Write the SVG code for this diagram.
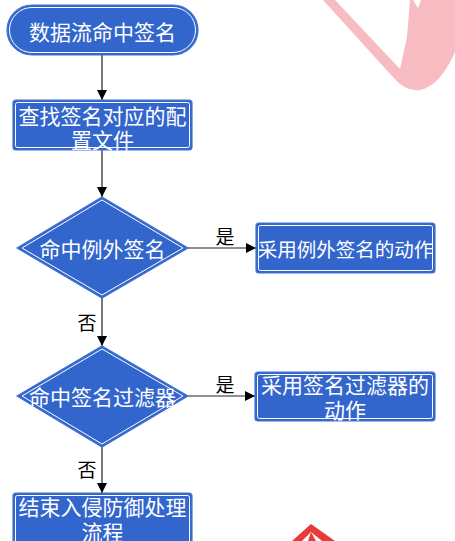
<svg xmlns="http://www.w3.org/2000/svg" width="455" height="541" viewBox="0 0 455 541">
<defs>
<style>
.o{fill:#3366cc;stroke:#3f72d6;stroke-width:1.2}
.i{fill:none;stroke:#ffffff;stroke-width:1}
.t{font-family:"Noto Sans CJK SC","Noto Sans",sans-serif;font-size:21px;fill:#ffffff;text-anchor:middle;dominant-baseline:central}
.l{font-family:"Noto Sans CJK SC","Noto Sans",sans-serif;font-size:19px;fill:#000000;text-anchor:middle;dominant-baseline:central}
.c{fill:none;stroke:#222222;stroke-width:1.2}
</style>
<marker id="ah" viewBox="0 0 10 10" refX="10" refY="5" markerWidth="10" markerHeight="10" markerUnits="userSpaceOnUse" orient="auto">
<path d="M0,0 L10,5 L0,10 Z" fill="#000000"/>
</marker>
</defs>
<rect width="455" height="541" fill="#ffffff"/>
<g id="watermark">
<path d="M323,0 L392,76 Q405,92 420,90 Q440,86 455,52 L455,0 Z" fill="#f6bcc1"/>
<path d="M335,0 L400,69 L407,37 L410,0 Z" fill="#ffffff"/>
<path d="M413,0 L418,8 L421,0 Z" fill="#ffffff"/>
<path d="M311,524 L292,541 L335,541 Z" fill="#e83a3a"/>
<path d="M311,532 L302,541 L322,541 Z" fill="#ffffff"/>
<path d="M311,532 L308,541 L316,541 Z" fill="#e83a3a"/>
</g>
<g id="connectors">
<line class="c" x1="102" y1="55" x2="102" y2="100" marker-end="url(#ah)"/>
<line class="c" x1="102" y1="150" x2="102" y2="197" marker-end="url(#ah)"/>
<line class="c" x1="188" y1="248" x2="256" y2="248" marker-end="url(#ah)"/>
<text class="l" x="225" y="235">是</text>
<line class="c" x1="102" y1="298" x2="102" y2="346" marker-end="url(#ah)"/>
<text class="l" x="87" y="321">否</text>
<line class="c" x1="188" y1="396" x2="255" y2="396" marker-end="url(#ah)"/>
<text class="l" x="225" y="383">是</text>
<line class="c" x1="102" y1="447" x2="102" y2="493" marker-end="url(#ah)"/>
<text class="l" x="87" y="468">否</text>
</g>
<g id="start">
<rect class="o" x="7" y="5" width="191" height="50" rx="25"/>
<rect class="i" x="9.5" y="7.5" width="186" height="45" rx="22.5"/>
<text class="t" x="102.5" y="31">数据流命中签名</text>
</g>
<g id="find">
<rect class="o" x="13" y="100" width="179" height="50" rx="3"/>
<rect class="i" x="15.5" y="102.5" width="174" height="45" rx="2"/>
<text class="t" x="102.5" y="115">查找签名对应的配</text>
<text class="t" x="102.5" y="139">置文件</text>
</g>
<g id="d1">
<polygon class="o" points="102,197 188,248 102,298 17,248"/>
<polygon class="i" points="102,200 183,248 102,295 22,248"/>
<text class="t" x="102.5" y="248">命中例外签名</text>
</g>
<g id="act1">
<rect class="o" x="256" y="223" width="179" height="50" rx="3"/>
<rect class="i" x="258.5" y="225.5" width="174" height="45" rx="2"/>
<text class="t" x="345.5" y="248" style="font-size:19.5px">采用例外签名的动作</text>
</g>
<g id="d2">
<polygon class="o" points="102,346 188,396 102,447 17,396"/>
<polygon class="i" points="102,349 183,396 102,444 22,396"/>
<text class="t" x="102.5" y="396">命中签名过滤器</text>
</g>
<g id="act2">
<rect class="o" x="255" y="372" width="180" height="49" rx="3"/>
<rect class="i" x="257.5" y="374.5" width="175" height="44" rx="2"/>
<text class="t" x="345" y="384">采用签名过滤器的</text>
<text class="t" x="345" y="409">动作</text>
</g>
<g id="end">
<rect class="o" x="13" y="493" width="179" height="60" rx="3"/>
<rect class="i" x="15.5" y="495.5" width="174" height="55" rx="2"/>
<text class="t" x="102.5" y="506">结束入侵防御处理</text>
<text class="t" x="102.5" y="531">流程</text>
</g>
</svg>
